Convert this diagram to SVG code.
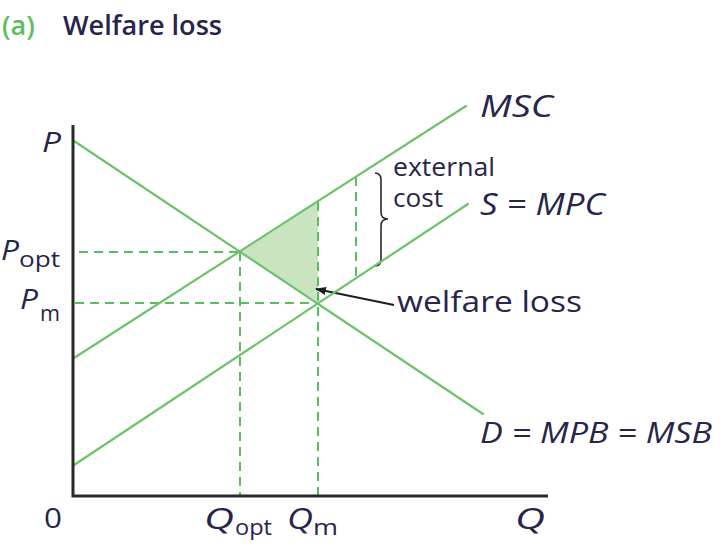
<svg xmlns="http://www.w3.org/2000/svg" width="724" height="552" viewBox="0 0 724 552">
<style>
.curve{stroke:#6cc36c;stroke-width:2.2;fill:none;stroke-linecap:round}
.dash{stroke:#5cbd5c;stroke-width:2;fill:none;stroke-dasharray:9 6}
.axis{stroke:#2a2a2a;stroke-width:3;fill:none}
.t{font-family:"Open Sans","Liberation Sans",sans-serif;fill:#27254a;font-weight:400}
.it{font-style:italic}
.title{font-weight:600}
</style>
<defs>
<marker id="ah" markerWidth="11" markerHeight="8" refX="10" refY="4" orient="auto" markerUnits="userSpaceOnUse">
<path d="M0,0 L11,4 L0,8 Z" fill="#1e1e1e"/>
</marker>
</defs>
<rect width="724" height="552" fill="#ffffff"/>
<g id="title">
<text class="t title" x="2" y="35" font-size="27" style="fill:#5cbd5c">(a)</text>
<text class="t title" x="63" y="35" font-size="27" textLength="159" lengthAdjust="spacingAndGlyphs">Welfare loss</text>
</g>
<g id="shading">
<polygon points="240,252 318,202 318,302" fill="#c9e4bf"/>
</g>
<g id="connectors">
<line class="dash" x1="79" y1="252" x2="240" y2="252"/>
<line class="dash" x1="75" y1="303" x2="318" y2="303"/>
<line class="dash" x1="240" y1="252" x2="240" y2="495"/>
<line class="dash" x1="318" y1="202" x2="318" y2="495"/>
<line class="dash" x1="356" y1="177" x2="356" y2="279"/>
<path d="M375,173 Q381,173 381,180 L381,212 Q381,219 388,219 Q381,219 381,226 L381,259 Q381,266 375,266" fill="none" stroke="#2a2a2a" stroke-width="1.6"/>
<line x1="394" y1="305" x2="316" y2="289" stroke="#1e1e1e" stroke-width="1.8" marker-end="url(#ah)"/>
</g>
<g id="curves">
<line id="demand" class="curve" x1="74" y1="141" x2="483" y2="414"/>
<line id="msc" class="curve" x1="74" y1="358" x2="466" y2="106"/>
<line id="mpc" class="curve" x1="74" y1="465" x2="468" y2="204"/>
</g>
<g id="axes">
<polyline class="axis" points="73,125 73,496 548,496"/>
</g>
<g id="labels">
<text class="t it" x="42" y="152" font-size="28" textLength="19" lengthAdjust="spacingAndGlyphs">P</text>
<text class="t it" x="1" y="260" font-size="28" textLength="18" lengthAdjust="spacingAndGlyphs">P</text>
<text class="t" x="19" y="267" font-size="21" textLength="41" lengthAdjust="spacingAndGlyphs">opt</text>
<text class="t it" x="20" y="309" font-size="28" textLength="18" lengthAdjust="spacingAndGlyphs">P</text>
<text class="t" x="40" y="321" font-size="21" textLength="20" lengthAdjust="spacingAndGlyphs">m</text>
<text class="t" x="44" y="528" font-size="27" textLength="18" lengthAdjust="spacingAndGlyphs">0</text>
<text class="t it" x="204" y="529" font-size="29" textLength="30" lengthAdjust="spacingAndGlyphs">Q</text>
<text class="t" x="235" y="535" font-size="21" textLength="37" lengthAdjust="spacingAndGlyphs">opt</text>
<text class="t it" x="287" y="529" font-size="29" textLength="26" lengthAdjust="spacingAndGlyphs">Q</text>
<text class="t" x="313" y="535" font-size="21" textLength="25" lengthAdjust="spacingAndGlyphs">m</text>
<text class="t it" x="515" y="529" font-size="29" textLength="30" lengthAdjust="spacingAndGlyphs">Q</text>
<text class="t it" x="480" y="117" font-size="31" textLength="73" lengthAdjust="spacingAndGlyphs">MSC</text>
<text class="t" x="393" y="176" font-size="25" textLength="102" lengthAdjust="spacingAndGlyphs">external</text>
<text class="t" x="393" y="207" font-size="25" textLength="50" lengthAdjust="spacingAndGlyphs">cost</text>
<text class="t it" x="480" y="215" font-size="31" textLength="125" lengthAdjust="spacingAndGlyphs">S = MPC</text>
<text class="t" x="397" y="312" font-size="30" textLength="185" lengthAdjust="spacingAndGlyphs">welfare loss</text>
<text class="t it" x="480" y="443" font-size="30" textLength="232" lengthAdjust="spacingAndGlyphs">D = MPB = MSB</text>
</g>
</svg>
